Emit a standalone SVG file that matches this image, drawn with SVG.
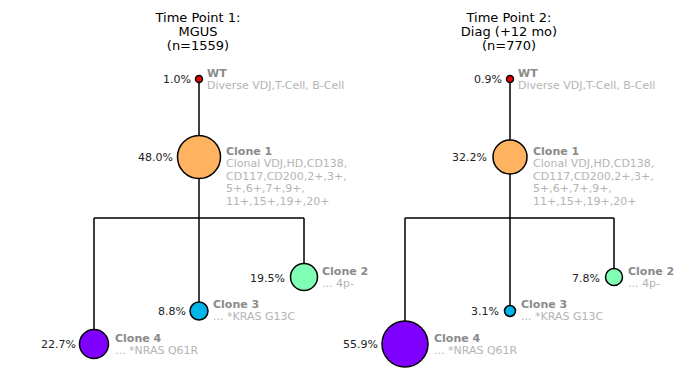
<svg xmlns="http://www.w3.org/2000/svg" width="698" height="388" viewBox="0 0 698 388">
<style>
text{font-family:"DejaVu Sans",sans-serif;}
.title{font-size:13px;fill:#000;text-anchor:middle;}
.pct{font-size:11px;fill:#222;text-anchor:end;}
.name{font-size:11px;font-weight:bold;fill:#8a8a8a;}
.desc{font-size:11px;fill:#b4b4b4;}
.node{stroke:#000;stroke-width:1.5;}
.edge{stroke:#000;stroke-width:1.5;fill:none;}
</style>
<rect width="698" height="388" fill="#fff"/>
<g id="title1">
<text class="title" x="198" y="22">Time Point 1:</text>
<text class="title" x="198" y="36">MGUS</text>
<text class="title" x="198" y="50">(n=1559)</text>
</g>
<g id="title2">
<text class="title" x="509" y="22">Time Point 2:</text>
<text class="title" x="509" y="36">Diag (+12 mo)</text>
<text class="title" x="509" y="50">(n=770)</text>
</g>
<g id="connectors">
<path class="edge" d="M199 79V157M199 157V311M94 218H304M94 218V344M304 218V277"/>
<path class="edge" d="M510 79V157M510 157V311M405 218H614M405 218V344M614 218V277"/>
</g>
<g id="tp1-wt">
<circle class="node" cx="199" cy="79" r="3.5" fill="#ee0000"/>
<text class="pct" x="191" y="83">1.0%</text>
<text class="name" x="207" y="77">WT</text>
<text class="desc" x="207" y="89">Diverse VDJ,T-Cell, B-Cell</text>
</g>
<g id="tp1-clone1">
<circle class="node" cx="199" cy="157" r="21.5" fill="#ffb360"/>
<text class="pct" x="173" y="161">48.0%</text>
<text class="name" x="226" y="155">Clone 1</text>
<text class="desc" x="226" y="167">Clonal VDJ,HD,CD138,</text>
<text class="desc" x="226" y="179.5">CD117,CD200,2+,3+,</text>
<text class="desc" x="226" y="192">5+,6+,7+,9+,</text>
<text class="desc" x="226" y="204.5">11+,15+,19+,20+</text>
</g>
<g id="tp1-clone2">
<circle class="node" cx="304" cy="277" r="13.5" fill="#80ffb4"/>
<text class="pct" x="285" y="282">19.5%</text>
<text class="name" x="322" y="275">Clone 2</text>
<text class="desc" x="322" y="287">... 4p-</text>
</g>
<g id="tp1-clone3">
<circle class="node" cx="199" cy="311" r="9" fill="#00b4ec"/>
<text class="pct" x="186" y="315">8.8%</text>
<text class="name" x="213" y="308">Clone 3</text>
<text class="desc" x="213" y="320">... *KRAS G13C</text>
</g>
<g id="tp1-clone4">
<circle class="node" cx="94" cy="344" r="14.5" fill="#8000ff"/>
<text class="pct" x="76" y="348">22.7%</text>
<text class="name" x="115" y="342">Clone 4</text>
<text class="desc" x="115" y="354">... *NRAS Q61R</text>
</g>
<g id="tp2-wt">
<circle class="node" cx="510" cy="79" r="3.5" fill="#ee0000"/>
<text class="pct" x="502" y="83">0.9%</text>
<text class="name" x="518" y="77">WT</text>
<text class="desc" x="518" y="89">Diverse VDJ,T-Cell, B-Cell</text>
</g>
<g id="tp2-clone1">
<circle class="node" cx="510" cy="157" r="17" fill="#ffb360"/>
<text class="pct" x="487" y="161">32.2%</text>
<text class="name" x="533" y="155">Clone 1</text>
<text class="desc" x="533" y="167">Clonal VDJ,HD,CD138,</text>
<text class="desc" x="533" y="179.5">CD117,CD200,2+,3+,</text>
<text class="desc" x="533" y="192">5+,6+,7+,9+,</text>
<text class="desc" x="533" y="204.5">11+,15+,19+,20+</text>
</g>
<g id="tp2-clone2">
<circle class="node" cx="614" cy="277" r="8.5" fill="#80ffb4"/>
<text class="pct" x="600" y="282">7.8%</text>
<text class="name" x="628" y="275">Clone 2</text>
<text class="desc" x="628" y="287">... 4p-</text>
</g>
<g id="tp2-clone3">
<circle class="node" cx="510" cy="311" r="5.5" fill="#00b4ec"/>
<text class="pct" x="499" y="315">3.1%</text>
<text class="name" x="521" y="308">Clone 3</text>
<text class="desc" x="521" y="320">... *KRAS G13C</text>
</g>
<g id="tp2-clone4">
<circle class="node" cx="405" cy="344" r="23" fill="#8000ff"/>
<text class="pct" x="378" y="348">55.9%</text>
<text class="name" x="434" y="342">Clone 4</text>
<text class="desc" x="434" y="354">... *NRAS Q61R</text>
</g>
</svg>
